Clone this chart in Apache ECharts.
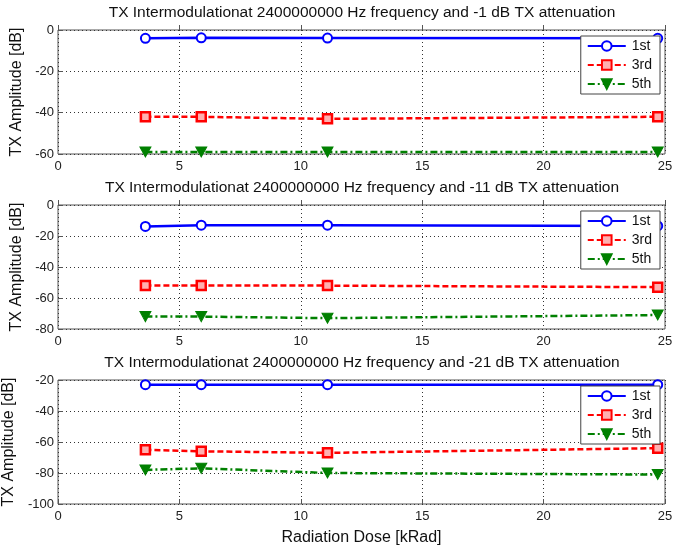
<!DOCTYPE html>
<html><head><meta charset="utf-8">
<script src="https://cdn.jsdelivr.net/npm/echarts@6/dist/echarts.min.js"></script>
<style>html,body{margin:0;padding:0;background:#fff}#c{width:687px;height:549px}</style>
</head><body><div id="c"></div>
<script>
const doses = [3.6, 5.9, 11.1, 24.7];
const attenuations = [-1, -11, -21];
const first  = [[-4, -3.8, -3.9, -4], [-13.8, -13, -13, -13.5], [-23, -23, -23, -23]];
const third  = [[-42, -42, -43, -42], [-52, -52, -52, -53], [-65, -66, -67, -64]];
const fifth  = [[-59, -59, -59, -59], [-72, -72, -73, -71], [-78, -77, -80, -81]];
const yMins = [-60, -80, -100];
const yMaxs = [0, 0, -20];
const xTicks = [0, 5, 10, 15, 20, 25];
const harmonicNames = ['1st', '3rd', '5th'];

const gridTops = [30, 205, 380];
const plotH = 124;
const font = 'Liberation Sans, Arial, sans-serif';
const tri = 'path://M0,0L10,0L5,9Z';

const option = {
  animation: false,
  backgroundColor: '#fff',
  title: attenuations.map((a, i) => ({
    text: 'TX Intermodulationat 2400000000 Hz frequency and ' + a + ' dB TX attenuation',
    left: 362, top: gridTops[i] - 25, textAlign: 'center', padding: 0,
    textStyle: {fontFamily: font, fontSize: 15.5, fontWeight: 'normal', color: '#111'}
  })),
  grid: gridTops.map(t => ({left: 58, top: t, width: 607, height: plotH, show: true,
    outerBoundsMode: 'none', containLabel: false,
    borderColor: '#555', borderWidth: 1, backgroundColor: 'transparent'})),
  legend: gridTops.map(t => ({
    data: harmonicNames, orient: 'vertical', right: 27, top: t + 6,
    itemWidth: 38, itemHeight: 12, itemGap: 5, padding: [3, 8, 3, 6],
    borderColor: '#444', borderWidth: 1, borderRadius: 0, backgroundColor: '#fff',
    textStyle: {fontFamily: font, fontSize: 14, color: '#111', padding: [0, 0, 0, 1]}
  })),
  xAxis: gridTops.map((t, i) => ({
    type: 'value', gridIndex: i, min: 0, max: 25, interval: 5,
    name: i === 2 ? 'Radiation Dose [kRad]' : '', nameLocation: 'middle', nameGap: 26,
    nameTextStyle: {fontFamily: font, fontSize: 16, color: '#111'},
    axisLine: {show: false}, axisTick: {show: true, inside: true, length: 5, lineStyle: {color: '#555'}},
    axisLabel: {fontFamily: font, fontSize: 13, color: '#222', margin: 6,
      formatter: v => xTicks.includes(v) ? String(v) : ''},
    splitLine: {show: true, lineStyle: {color: '#333', width: 1, type: [1, 3]}}
  })),
  yAxis: gridTops.map((t, i) => ({
    type: 'value', gridIndex: i, min: yMins[i], max: yMaxs[i], interval: 20,
    name: 'TX Amplitude [dB]', nameLocation: 'middle', nameGap: 30,
    nameTextStyle: {fontFamily: font, fontSize: 16, color: '#111'},
    axisLine: {show: false}, axisTick: {show: true, inside: true, length: 5, lineStyle: {color: '#555'}},
    axisLabel: {fontFamily: font, fontSize: 13, color: '#222', margin: 4},
    splitLine: {show: true, lineStyle: {color: '#333', width: 1, type: [1, 3]}}
  })),
  series: []
};

for (let i = 0; i < 3; i++) {
  option.series.push({
    name: '1st', type: 'line', xAxisIndex: i, yAxisIndex: i,
    data: doses.map((d, k) => [d, first[i][k]]),
    symbol: 'circle', symbolSize: 9,
    lineStyle: {color: '#0000ff', width: 2.5, type: 'solid'},
    itemStyle: {color: '#fff', borderColor: '#0000ff', borderWidth: 2}
  });
  option.series.push({
    name: '3rd', type: 'line', xAxisIndex: i, yAxisIndex: i,
    data: doses.map((d, k) => [d, third[i][k]]),
    symbol: 'rect', symbolSize: 9,
    lineStyle: {color: '#ff0000', width: 2.5, type: [6, 3]},
    itemStyle: {color: '#ffb0b0', borderColor: '#ff0000', borderWidth: 2.5}
  });
  option.series.push({
    name: '5th', type: 'line', xAxisIndex: i, yAxisIndex: i,
    data: doses.map((d, k) => [d, fifth[i][k]]),
    symbol: tri, symbolSize: [11, 10],
    lineStyle: {color: '#008000', width: 2.5, type: [7, 3, 2, 3]},
    itemStyle: {color: '#008000', borderColor: '#008000', borderWidth: 1}
  });
}

const chart = echarts.init(document.getElementById('c'), null, {renderer: 'canvas'});
chart.setOption(option);
</script></body></html>
